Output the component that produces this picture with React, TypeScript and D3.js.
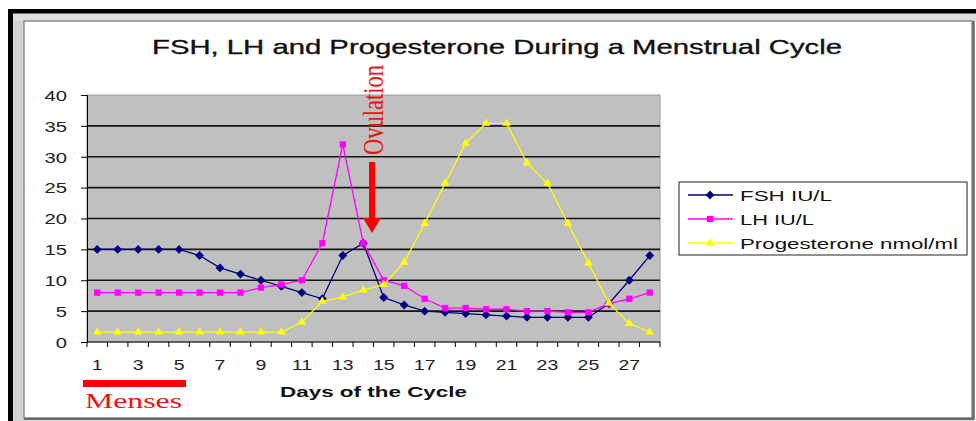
import React, { useEffect, useRef } from "react";
import * as d3 from "d3";

const days = [1, 2, 3, 4, 5, 6, 7, 8, 9, 10, 11, 12, 13, 14, 15, 16, 17, 18, 19, 20, 21, 22, 23, 24, 25, 26, 27, 28];
const fsh = [15, 15, 15, 15, 15, 14, 12, 11, 10, 9, 8, 7, 14, 16, 7.2, 6, 5, 4.8, 4.6, 4.4, 4.2, 4, 4, 4, 4, 6.2, 10, 14];
const lh = [8, 8, 8, 8, 8, 8, 8, 8, 8.8, 9.3, 10, 16, 32, 16, 10, 9.1, 7, 5.5, 5.5, 5.3, 5.3, 5, 5, 4.8, 4.8, 6.2, 7, 8];
const progesterone = [1.6, 1.6, 1.6, 1.6, 1.6, 1.6, 1.6, 1.6, 1.6, 1.6, 3.2, 6.6, 7.3, 8.4, 9.3, 12.9, 19.2, 25.7, 32.2, 35.4, 35.4, 29, 25.7, 19.2, 12.8, 6.3, 3, 1.6];
const yTicks = [0, 5, 10, 15, 20, 25, 30, 35, 40];
const xLabels = [1, 3, 5, 7, 9, 11, 13, 15, 17, 19, 21, 23, 25, 27];

const series = [
  { name: "FSH IU/L", values: fsh, color: "#000080", symbol: d3.symbolDiamond2, size: 50 },
  { name: "LH IU/L", values: lh, color: "#FF00FF", symbol: d3.symbolSquare2, size: 50 },
  { name: "Progesterone nmol/ml", values: progesterone, color: "#FFFF00", symbol: d3.symbolTriangle2, size: 52 },
];

const W = 976;
const H = 421;

export default function App() {
  const svgRef = useRef<SVGSVGElement>(null);

  useEffect(() => {
    if (!svgRef.current) return;
    const svg = d3.select(svgRef.current);
    svg.selectAll("*").remove();

    const font = "'Liberation Sans', Arial, sans-serif";
    const serif = "'Liberation Serif', 'Times New Roman', serif";

    // frame
    svg.append("rect").attr("width", W).attr("height", H).attr("fill", "#fff");
    svg.append("rect").attr("x", 13).attr("y", 13).attr("width", 11).attr("height", H - 13).attr("fill", "#d2d2d2");
    svg.append("rect").attr("x", 13).attr("y", 13).attr("width", W - 13).attr("height", 8).attr("fill", "#dedede");
    svg.append("rect").attr("x", 8).attr("y", 9).attr("width", W - 8).attr("height", 4.5).attr("fill", "#000");
    svg.append("rect").attr("x", 8).attr("y", 9).attr("width", 5).attr("height", H - 9).attr("fill", "#000");
    svg.append("rect").attr("x", 24).attr("y", 21).attr("width", 948).attr("height", 397)
      .attr("fill", "#fff").attr("stroke", "#8c8c8c").attr("stroke-width", 1.5);
    svg.append("line").attr("x1", 973.5).attr("x2", 973.5).attr("y1", 21).attr("y2", 420)
      .attr("stroke", "#6a6a6a").attr("stroke-width", 2.5);
    svg.append("line").attr("x1", 24).attr("x2", 974).attr("y1", 419).attr("y2", 419)
      .attr("stroke", "#6a6a6a").attr("stroke-width", 2.5);

    const x = d3.scaleBand<number>().domain(days).range([87, 660]).padding(0);
    const y = d3.scaleLinear().domain([0, 40]).range([342, 95]);
    const cx = (d: number) => (x(d) || 0) + x.bandwidth() / 2;

    // plot area
    svg.append("rect").attr("x", 87).attr("y", y(40)).attr("width", 573).attr("height", y(0) - y(40))
      .attr("fill", "#c0c0c0").attr("stroke", "#9a9a9a").attr("stroke-width", 1);

    svg.append("g").selectAll("line").data(yTicks.filter(t => t > 0 && t < 40)).join("line")
      .attr("x1", 87).attr("x2", 660).attr("y1", d => y(d)).attr("y2", d => y(d))
      .attr("stroke", "#151515").attr("stroke-width", 1.6);

    // y axis
    const yAxis = svg.append("g").attr("transform", "translate(87,0)")
      .call(d3.axisLeft(y).tickValues(yTicks).tickSize(6).tickPadding(0));
    yAxis.select(".domain").attr("stroke", "#000");
    yAxis.selectAll(".tick line").attr("stroke", "#000");
    yAxis.selectAll(".tick text")
      .attr("x", null).attr("dy", "0.35em")
      .attr("transform", "translate(-20,0) scale(1.35,1)")
      .attr("font-family", font).attr("font-size", 15).attr("fill", "#222");

    // x axis
    svg.append("line").attr("x1", 87).attr("x2", 660).attr("y1", 342).attr("y2", 342).attr("stroke", "#000");
    const bounds = days.map(d => x(d) || 0).concat([660]);
    svg.append("g").selectAll("line").data(bounds).join("line")
      .attr("x1", d => d).attr("x2", d => d).attr("y1", 342).attr("y2", 347).attr("stroke", "#000");
    svg.append("g").selectAll("text").data(xLabels).join("text")
      .attr("transform", d => `translate(${cx(d)},370) scale(1.3,1)`)
      .attr("text-anchor", "middle").attr("font-family", font).attr("font-size", 15).attr("fill", "#222")
      .text(d => d);

    // series
    series.forEach(s => {
      const line = d3.line<number>().x((_, i) => cx(days[i])).y(v => y(v));
      svg.append("path").datum(s.values).attr("d", line)
        .attr("fill", "none").attr("stroke", s.color).attr("stroke-width", 1.3);
      svg.append("g").selectAll("path").data(s.values).join("path")
        .attr("transform", (v, i) => `translate(${cx(days[i])},${y(v)})`)
        .attr("d", d3.symbol().type(s.symbol).size(s.size)())
        .attr("fill", s.color);
    });

    // title
    svg.append("text").attr("x", 497).attr("y", 54).attr("text-anchor", "middle")
      .attr("font-family", font).attr("font-size", 21).attr("fill", "#111")
      .attr("stroke", "#111").attr("stroke-width", 0.35)
      .attr("textLength", 690).attr("lengthAdjust", "spacingAndGlyphs")
      .text("FSH, LH and Progesterone During a Menstrual Cycle");

    // x axis label
    svg.append("text").attr("x", 280).attr("y", 397)
      .attr("font-family", font).attr("font-size", 15).attr("font-weight", "bold").attr("fill", "#111")
      .attr("textLength", 187).attr("lengthAdjust", "spacingAndGlyphs")
      .text("Days of the Cycle");

    // legend
    const legend = svg.append("g");
    legend.append("rect").attr("x", 679).attr("y", 182).attr("width", 288).attr("height", 73)
      .attr("fill", "#fff").attr("stroke", "#222").attr("stroke-width", 1);
    const lens = [92, 74, 218];
    series.forEach((s, i) => {
      const ry = 195 + i * 24;
      legend.append("line").attr("x1", 688).attr("x2", 733).attr("y1", ry).attr("y2", ry)
        .attr("stroke", s.color).attr("stroke-width", 1.3);
      legend.append("path").attr("transform", `translate(710,${ry})`)
        .attr("d", d3.symbol().type(s.symbol).size(s.size)()).attr("fill", s.color);
      legend.append("text").attr("x", 740).attr("y", ry + 5.5)
        .attr("font-family", font).attr("font-size", 15).attr("fill", "#111")
        .attr("textLength", lens[i]).attr("lengthAdjust", "spacingAndGlyphs")
        .text(s.name);
    });

    // ovulation annotation
    svg.append("text").attr("transform", "translate(383,155) rotate(-90) scale(1,1.3)")
      .attr("font-family", serif).attr("font-size", 22).attr("fill", "#ee1111")
      .attr("textLength", 90).attr("lengthAdjust", "spacingAndGlyphs")
      .text("Ovulation");
    svg.append("rect").attr("x", 369).attr("y", 162).attr("width", 6).attr("height", 58).attr("fill", "#ff0000");
    svg.append("path").attr("d", "M363,218 L381,218 L372,233 Z").attr("fill", "#ff0000");

    // menses annotation
    svg.append("rect").attr("x", 83).attr("y", 380).attr("width", 103).attr("height", 7).attr("fill", "#ff0000");
    svg.append("text").attr("x", 85).attr("y", 408)
      .attr("font-family", serif).attr("font-size", 22).attr("fill", "#ee1111")
      .attr("textLength", 97).attr("lengthAdjust", "spacingAndGlyphs")
      .text("Menses");
  }, []);

  return (
    <svg
      ref={svgRef}
      width={W}
      height={H}
      style={{ position: "absolute", left: 0, top: 0 }}
    />
  );
}
